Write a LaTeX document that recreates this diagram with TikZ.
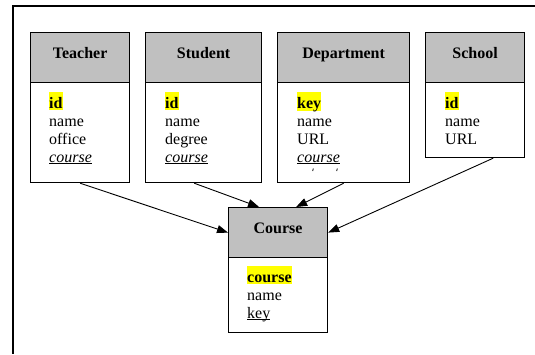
\documentclass[tikz,border=0pt]{standalone}
\usepackage{fontspec}
\setmainfont{Liberation Serif}
\usetikzlibrary{arrows.meta,calc}
\definecolor{hdrgray}{RGB}{192,192,192}
\definecolor{hlyellow}{RGB}{255,255,0}
\newsavebox\myulbox
\newcommand\hlkey[1]{{\setlength\fboxsep{0pt}\colorbox{hlyellow}{\rule[-2pt]{0pt}{18pt}\textbf{#1}}}}
\newcommand\myul[1]{\sbox\myulbox{#1}\rlap{\rule[-2pt]{\wd\myulbox}{0.8pt}}\usebox\myulbox}
\newcommand\fieldlist[1]{\vtop{\baselineskip=18pt #1}}
\begin{document}
\begin{tikzpicture}[x=1pt,y=-1pt,
  txt/.style={font=\fontsize{16}{18}\selectfont},
  hdr/.style={txt, draw, line width=1.2pt, fill=hdrgray, anchor=north west, inner sep=0pt,
    minimum height=50pt, text height=26pt, text depth=24pt, font=\fontsize{16}{18}\selectfont\bfseries},
  bodybox/.style={draw, line width=1.2pt, fill=white, anchor=north west, inner sep=0pt},
  fields/.style={txt, anchor=base west, inner sep=0pt},
  link/.style={line width=0.9pt, -{Triangle[length=11pt,width=8pt]}},
  frame/.style={line width=1.3pt}]
\useasboundingbox (0,0) rectangle (535,354);
\draw[frame] (535,6) -- (13,6) -- (13,354);

% Teacher
\node[hdr, minimum width=99pt] (teacherH) at (30,32) {Teacher};
\node[bodybox, minimum width=99pt, minimum height=100pt] (teacherB) at (30,82) {};
\node[fields] (teacherF) at ($(teacherB.north west)+(19,26)$)
  {\fieldlist{\hbox{\hlkey{id}}\hbox{name}\hbox{office}\hbox{\myul{\textit{course}}}}};

% Student
\node[hdr, minimum width=116pt] (studentH) at (145,32) {Student};
\node[bodybox, minimum width=116pt, minimum height=100pt] (studentB) at (145,82) {};
\node[fields] (studentF) at ($(studentB.north west)+(20,26)$)
  {\fieldlist{\hbox{\hlkey{id}}\hbox{name}\hbox{degree}\hbox{\myul{\textit{course}}}}};

% Department
\node[hdr, minimum width=132pt] (deptH) at (277,32) {Department};
\node[bodybox, minimum width=132pt, minimum height=100pt] (deptB) at (277,82) {};
\node[fields] (deptF) at ($(deptB.north west)+(20,26)$)
  {\fieldlist{\hbox{\hlkey{key}}\hbox{name}\hbox{URL}\hbox{\myul{\textit{course}}}}};
\draw[line width=0.8pt] (313.3,168.5) -- (312.7,171);
\draw[line width=0.8pt] (337.3,168.5) -- (336.7,171);

% School
\node[hdr, minimum width=99pt] (schoolH) at (425,32) {School};
\node[bodybox, minimum width=99pt, minimum height=75pt] (schoolB) at (425,82) {};
\node[fields] (schoolF) at ($(schoolB.north west)+(20,26)$)
  {\fieldlist{\hbox{\hlkey{id}}\hbox{name}\hbox{URL}}};

% Course
\node[hdr, minimum width=99pt] (courseH) at (228,207) {Course};
\node[bodybox, minimum width=99pt, minimum height=75pt] (courseB) at (228,257) {};
\node[fields] (courseF) at ($(courseB.north west)+(19,25)$)
  {\fieldlist{\hbox{\hlkey{course}}\hbox{name}\hbox{\myul{key}}}};

% Connectors
\draw[link] (teacherB.south) -- (courseH.west);
\draw[link] ($(studentB.south west)!0.42!(studentB.south east)$) -- ($(courseH.north west)!0.31!(courseH.north east)$);
\draw[link] (deptB.south) -- ($(courseH.north west)!0.68!(courseH.north east)$);
\draw[link] ($(schoolB.south west)!0.68!(schoolB.south east)$) -- (courseH.east);
\end{tikzpicture}
\end{document}
